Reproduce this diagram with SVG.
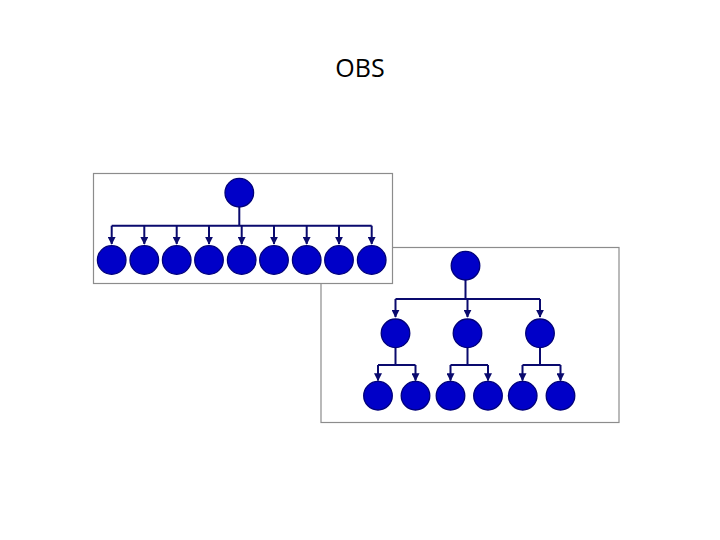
<svg xmlns="http://www.w3.org/2000/svg" width="720" height="540" viewBox="0 0 720 540">
<style>
.panel{fill:#fff;stroke:#8c8c8c;stroke-width:1.2}
.n{fill:#0000c8;stroke:#00007a;stroke-width:1.3}
.c{fill:none;stroke:#0a0a6e;stroke-width:2}
.t{font-family:"Open Sans","DejaVu Sans",sans-serif;font-size:25px;fill:#000}
</style>
<defs>
<marker id="ah" viewBox="0 0 10 10" refX="9" refY="5" markerWidth="4" markerHeight="4" orient="auto" markerUnits="strokeWidth">
<path d="M0,0 L10,5 L0,10 z" fill="#0a0a6e"/>
</marker>
</defs>
<rect width="720" height="540" fill="#fff"/>
<text class="t" x="360" y="77" text-anchor="middle">OBS</text>

<!-- Panel 2 -->
<rect id="panel2" class="panel" x="321" y="247.5" width="298" height="175"/>
<g id="p2-connectors">
<path class="c" d="M465.5,280 V299 M395.5,299 H540 M395.5,299 V317" marker-end="url(#ah)"/>
<path class="c" d="M467.5,299 V317" marker-end="url(#ah)"/>
<path class="c" d="M540,299 V317" marker-end="url(#ah)"/>
<path class="c" d="M395.5,347 V365 M378,365 H415.5 M378,365 V380.5" marker-end="url(#ah)"/>
<path class="c" d="M415.5,365 V380.5" marker-end="url(#ah)"/>
<path class="c" d="M467.5,347 V365 M450.5,365 H488 M450.5,365 V380.5" marker-end="url(#ah)"/>
<path class="c" d="M488,365 V380.5" marker-end="url(#ah)"/>
<path class="c" d="M540,347 V365 M522.5,365 H560.5 M522.5,365 V380.5" marker-end="url(#ah)"/>
<path class="c" d="M560.5,365 V380.5" marker-end="url(#ah)"/>
</g>
<g id="p2-root"><circle class="n" cx="465.5" cy="265.7" r="14.3"/></g>
<g id="p2-m1"><circle class="n" cx="395.5" cy="333.3" r="14.3"/></g>
<g id="p2-m2"><circle class="n" cx="467.5" cy="333.3" r="14.3"/></g>
<g id="p2-m3"><circle class="n" cx="540" cy="333.3" r="14.3"/></g>
<g id="p2-l1"><circle class="n" cx="378" cy="395.7" r="14.3"/></g>
<g id="p2-l2"><circle class="n" cx="415.5" cy="395.7" r="14.3"/></g>
<g id="p2-l3"><circle class="n" cx="450.5" cy="395.7" r="14.3"/></g>
<g id="p2-l4"><circle class="n" cx="488" cy="395.7" r="14.3"/></g>
<g id="p2-l5"><circle class="n" cx="522.7" cy="395.7" r="14.3"/></g>
<g id="p2-l6"><circle class="n" cx="560.5" cy="395.7" r="14.3"/></g>

<!-- Panel 1 -->
<rect id="panel1" class="panel" x="93.5" y="173.5" width="299" height="110"/>
<g id="p1-connectors">
<path class="c" d="M239.3,207 V225.7 M111.7,225.7 H371.7"/>
<path class="c" d="M111.7,225.7 V244" marker-end="url(#ah)"/>
<path class="c" d="M144.3,225.7 V244" marker-end="url(#ah)"/>
<path class="c" d="M176.7,225.7 V244" marker-end="url(#ah)"/>
<path class="c" d="M209,225.7 V244" marker-end="url(#ah)"/>
<path class="c" d="M241.7,225.7 V244" marker-end="url(#ah)"/>
<path class="c" d="M274,225.7 V244" marker-end="url(#ah)"/>
<path class="c" d="M306.7,225.7 V244" marker-end="url(#ah)"/>
<path class="c" d="M339,225.7 V244" marker-end="url(#ah)"/>
<path class="c" d="M371.7,225.7 V244" marker-end="url(#ah)"/>
</g>
<g id="p1-root"><circle class="n" cx="239.3" cy="192.7" r="14.3"/></g>
<g id="p1-c1"><circle class="n" cx="111.7" cy="260" r="14.3"/></g>
<g id="p1-c2"><circle class="n" cx="144.3" cy="260" r="14.3"/></g>
<g id="p1-c3"><circle class="n" cx="176.7" cy="260" r="14.3"/></g>
<g id="p1-c4"><circle class="n" cx="209" cy="260" r="14.3"/></g>
<g id="p1-c5"><circle class="n" cx="241.7" cy="260" r="14.3"/></g>
<g id="p1-c6"><circle class="n" cx="274" cy="260" r="14.3"/></g>
<g id="p1-c7"><circle class="n" cx="306.7" cy="260" r="14.3"/></g>
<g id="p1-c8"><circle class="n" cx="339" cy="260" r="14.3"/></g>
<g id="p1-c9"><circle class="n" cx="371.7" cy="260" r="14.3"/></g>
</svg>
